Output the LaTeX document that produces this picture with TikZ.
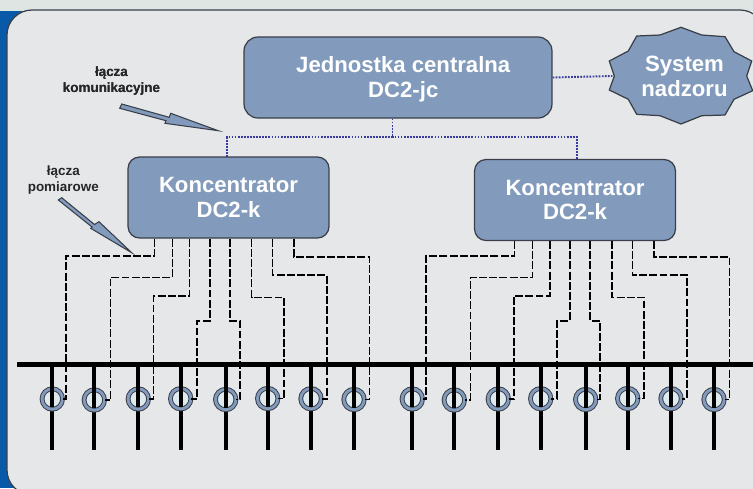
\documentclass[tikz,border=0pt]{standalone}
\usepackage{fontspec}
\setmainfont{Liberation Sans}
\usepackage{xcolor}
\usepackage{tikz}
\usetikzlibrary{calc}
\definecolor{boxblue}{RGB}{130,155,188}
\definecolor{edgegrey}{RGB}{58,62,72}
\definecolor{panelgrey}{RGB}{229,231,233}
\definecolor{bandgrey}{RGB}{222,229,227}
\definecolor{sideblue}{RGB}{8,90,168}
\definecolor{dotblue}{RGB}{58,58,158}
\definecolor{ringfill}{RGB}{223,234,238}
\tikzset{
  mainbox/.style={draw=edgegrey,line width=.7pt,fill=boxblue,text=white,align=center,inner sep=0pt,
    font=\fontsize{12.6}{14.2}\bfseries\selectfont},
  konc/.style={mainbox,minimum width=4.02cm,minimum height=1.62cm,rounded corners=.23cm},
  smalllabel/.style={align=center,text=black!85,inner sep=0pt,font=\fontsize{7.66}{8.9}\bfseries\selectfont},
  commlink/.style={dotblue,line width=1.1pt,dash pattern=on 1pt off .75pt},
  measlink/.style={black,line width=.9pt,dash pattern=on 4.5pt off 1.3pt},
  callout/.style={draw=edgegrey,line width=.6pt,fill=boxblue,line join=miter},
  tapline/.style={black,line width=2.3pt},
  tapring/.style={circle,draw=edgegrey,line width=.55pt,double=boxblue,double distance=1.6pt,fill=ringfill,
    minimum size=.41cm,inner sep=0pt}
}

\begin{document}
\begin{tikzpicture}[x=.02cm,y=-.02cm]
  \clip[use as bounding box] (0,0) rectangle (753,488);
  % background
  \fill[bandgrey] (0,0) rectangle (753,11);
  \fill[sideblue] (0,10.5) rectangle (30,488);
  \draw[draw=edgegrey,line width=.7pt,fill=panelgrey,rounded corners=.5cm] (7,10) rectangle (765,495);
  % star outline
  \draw[callout,line width=.7pt] (681,27.3) -- (701.7,35) -- (725,36.7) -- (734,51.7) -- (751.7,61) -- (746.7,76)
    -- (752.7,90.7) -- (734,99.3) -- (725,115) -- (701.7,115.7) -- (681,124) -- (660,115.7) -- (636.7,114.3)
    -- (628.3,99.3) -- (609.3,90) -- (614.3,76) -- (609.3,61) -- (628.3,51) -- (636.7,36) -- (660,35) -- cycle;
  % boxes
  \node[mainbox,minimum width=6.16cm,minimum height=1.62cm,rounded corners=.28cm] (jc) at (398,77.5)
    {\rule{0pt}{11pt}\hspace*{6pt}Jednostka centralna\\ \hspace*{6pt}DC2-jc};
  \node[konc] (konc1) at (228.5,197.5) {Koncentrator\\ DC2-k};
  \node[konc] (konc2) at (575,200) {Koncentrator\\ DC2-k};
  \node[mainbox,draw=none,fill=none,minimum width=2.86cm] (nadzor) at (684.5,76) {System\\ nadzoru};
  % dotted links
  \coordinate (bus) at (392.5,137);
  \coordinate (kin1) at (227,157);
  \coordinate (kin2) at (577,159);
  \draw[commlink] (jc.east) -- (nadzor.west);
  \draw[commlink] (bus |- jc.south) -- (bus);
  \draw[commlink] (kin1) |- (bus) -| (kin2);
  % busbar
  \coordinate (busl) at (17,364.5);
  \coordinate (busr) at (753,364.5);
  \draw[tapline] (busl) -- (busr);
  % tap lines and rings
  \foreach \k/\off in {1/0,2/360}
    \begin{scope}[shift={(\off,0)}]
      \foreach \i/\x/\ry/\tx/\hy/\dx in {1/52.3/399/154.3/255.7/66,2/94.3/400/172.3/277.3/110.3,
          3/138.3/399/189.7/296/153.7,4/180.7/398.7/210/320.7/197,5/225.7/399.5/230/320.7/240,
          6/267.7/398.5/251.7/297.3/284,7/311/398.7/272.3/275/327,8/354/399.5/294/256.7/369.3} {
        \draw[tapline] (\x,{\ry+8}) -- (\x,449.5);
        \node[tapring] (r\k\i) at (\x,\ry) {};
        \draw[tapline] (r\k\i.center |- busl) -- (\x,{\ry+8});
        \draw[measlink] (konc\k.south -| \tx,0) |- (\dx,\hy) |- (r\k\i.east);
      }
    \end{scope}
  % labels
  \node[smalllabel] (lkom) at (111.5,81) {łącza\\ komunikacyjne};
  \node[smalllabel] (lpom) at (63.3,180) {łącza\\ pomiarowe};
  \draw[callout] (121.7,104) -- (169.3,117.3) -- (170.7,113.3) -- (218.3,130.7) -- (165,123.3) -- (166,120.7) -- (119.7,108.3) -- cycle;
  \draw[callout] (61.7,197.7) -- (94.5,224.5) -- (99,221.7) -- (131.7,252.7) -- (90.7,228.3) -- (92,227) -- (58.3,200) -- cycle;
\end{tikzpicture}
\end{document}
